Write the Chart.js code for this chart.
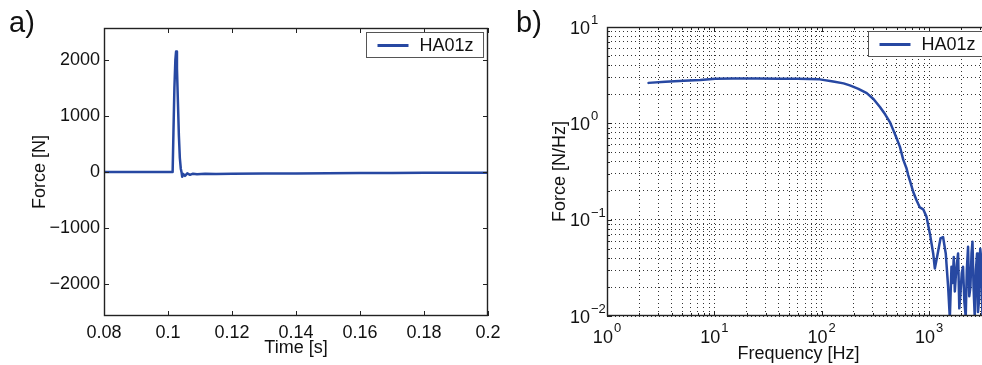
<!DOCTYPE html>
<html>
<head>
<meta charset="utf-8">
<script src="https://cdn.jsdelivr.net/npm/chart.js@4.4.1/dist/chart.umd.min.js"></script>
<style>
  html, body { margin: 0; padding: 0; overflow: hidden; background: #fff; width: 982px; height: 365px; }
  canvas { position: absolute; top: 0; }
  #chartA { left: 0; }
  #chartB { left: 500px; }
  .tag { position: absolute; top: 8px; font: 29px "Liberation Sans", Arial, sans-serif; line-height: 29px; color: #111; }
</style>
</head>
<body>
<canvas id="chartA" width="520" height="365"></canvas>
<canvas id="chartB" width="510" height="365"></canvas>
<div class="tag" style="left:9px">a)</div>
<div class="tag" style="left:516px">b)</div>
<script>
// a) time signal
const timeS  = [0.08, 0.09, 0.1, 0.10145, 0.1017, 0.1020, 0.1023, 0.10252, 0.1028, 0.1031, 0.1034, 0.1037, 0.1040, 0.10425, 0.10444, 0.10478, 0.10531, 0.10603, 0.10688, 0.10781, 0.10906, 0.1116, 0.115, 0.12, 0.13, 0.14, 0.15, 0.16, 0.17, 0.18, 0.19, 0.2];
const forceN = [0, 0, 0, 0, 700, 1500, 2000, 2150, 1850, 1250, 650, 250, 60, -10, -84, -36, -70, -25, -50, -30, -42, -30, -35, -30, -28, -25, -22, -20, -18, -15, -13, -12];
const xTicksA  = [0.08, 0.1, 0.12, 0.14, 0.16, 0.18, 0.2];
const xLabelsA = ['0.08', '0.1', '0.12', '0.14', '0.16', '0.18', '0.2'];
const yTicksA  = [-2000, -1000, 0, 1000, 2000];
const yLabelsA = ['\u22122000', '\u22121000', '0', '1000', '2000'];

// b) spectrum
const freqHz = [2.44, 3.5, 5.2, 7.4, 10.2, 15, 25, 40, 60, 96, 128, 160, 183, 220, 263, 305, 349, 390, 432, 465, 499, 536, 575, 618, 640, 675, 712, 765, 822, 883, 948, 1018, 1094, 1133, 1190, 1279, 1352, 1432, 1507, 1563, 1619, 1660, 1701, 1740, 1775, 1820, 1866, 1915, 1963, 2020, 2075, 2135, 2198, 2250, 2311, 2370, 2432, 2490, 2541, 2600, 2667, 2735, 2803, 2860, 2924, 3000, 3075, 3150, 3230, 3330, 3430, 3560, 3700];
const spectrum = [2.63, 2.70, 2.76, 2.82, 2.90, 2.92, 2.92, 2.91, 2.90, 2.86, 2.72, 2.60, 2.48, 2.28, 2.06, 1.78, 1.48, 1.24, 1.03, 0.85, 0.70, 0.57, 0.42, 0.34, 0.29, 0.24, 0.195, 0.159, 0.134, 0.128, 0.107, 0.072, 0.0446, 0.0312, 0.0411, 0.0638, 0.066, 0.0446, 0.0201, 0.0095, 0.0324, 0.022, 0.041, 0.018, 0.0255, 0.035, 0.0446, 0.012, 0.0171, 0.028, 0.0324, 0.014, 0.0098, 0.03, 0.0523, 0.016, 0.0201, 0.045, 0.0589, 0.02, 0.0098, 0.03, 0.0446, 0.011, 0.0146, 0.05, 0.038, 0.009, 0.012, 0.04, 0.035, 0.011, 0.02];
const xDecadesB = [1, 10, 100, 1000];
const yDecadesB = [0.01, 0.1, 1, 10];

const seriesName = 'HA01z';
const lineBlue = '#2748a2';
const FONT = '"Liberation Sans", Arial, sans-serif';

Chart.defaults.font.family = FONT;
Chart.defaults.font.size = 18;
Chart.defaults.color = '#111';

function isDecade(v) {
  const e = Math.log10(v);
  return Math.abs(e - Math.round(e)) < 1e-6;
}
function expText(v) {
  return String(Math.round(Math.log10(v))).replace('-', '\u2212');
}
// gridline values 1..9 per decade
function logTicks(decades, max) {
  const out = [];
  decades.forEach(d => {
    for (let m = 1; m <= 9; m++) {
      const v = +(m * d).toPrecision(6);
      if (v <= max) out.push({ value: v });
    }
  });
  return out;
}

// box, inward ticks and legend, matlab style
const frame = {
  id: 'frame',
  afterDatasetsDraw(chart) {
    const { ctx, chartArea: a, scales } = chart;
    ctx.save();
    ctx.strokeStyle = '#222';
    ctx.lineWidth = 1;
    ctx.beginPath();
    scales.x.ticks.forEach(t => {
      const len = isDecade(t.value) || scales.x.type === 'linear' ? 5 : 3;
      const px = Math.round(scales.x.getPixelForValue(t.value)) + 0.5;
      ctx.moveTo(px, a.bottom); ctx.lineTo(px, a.bottom - len);
      ctx.moveTo(px, a.top); ctx.lineTo(px, a.top + len);
    });
    scales.y.ticks.forEach(t => {
      const len = isDecade(t.value) || scales.y.type === 'linear' ? 5 : 3;
      const py = Math.round(scales.y.getPixelForValue(t.value)) + 0.5;
      ctx.moveTo(a.left, py); ctx.lineTo(a.left + len, py);
      ctx.moveTo(a.right, py); ctx.lineTo(a.right - len, py);
    });
    ctx.stroke();
    ctx.lineWidth = 1.4;
    ctx.strokeRect(Math.round(a.left) + 0.5, Math.round(a.top) + 0.5, Math.round(a.width) - 1, Math.round(a.height) - 1);

    // legend
    const ds = chart.data.datasets[0];
    ctx.font = '18px ' + FONT;
    const tw = ctx.measureText(ds.label).width;
    const w = 53 + tw + 10, h = 25;
    const x0 = Math.round(a.right - 5 - w) + 0.5, y0 = Math.round(a.top + 4) + 0.5;
    ctx.fillStyle = '#fff';
    ctx.fillRect(x0, y0, w, h);
    ctx.strokeStyle = '#555';
    ctx.lineWidth = 1;
    ctx.strokeRect(x0, y0, w, h);
    ctx.strokeStyle = ds.borderColor;
    ctx.lineWidth = 3;
    ctx.beginPath();
    ctx.moveTo(x0 + 11, y0 + 13); ctx.lineTo(x0 + 42, y0 + 13);
    ctx.stroke();
    ctx.fillStyle = '#111';
    ctx.textBaseline = 'middle';
    ctx.fillText(ds.label, x0 + 53, y0 + 13.5);
    ctx.restore();
  }
};

// 10^n labels with a raised exponent on the log axes
const powerLabels = {
  id: 'powerLabels',
  afterDraw(chart) {
    const { ctx, chartArea: a, scales } = chart;
    ctx.save();
    ctx.fillStyle = '#111';
    ctx.textBaseline = 'alphabetic';
    scales.x.ticks.filter(t => isDecade(t.value)).forEach(t => {
      const px = scales.x.getPixelForValue(t.value);
      const e = expText(t.value);
      ctx.font = '18px ' + FONT;
      const wb = ctx.measureText('10').width;
      ctx.font = '13px ' + FONT;
      const we = ctx.measureText(e).width;
      const x = px - (wb + 1 + we) / 2;
      ctx.textAlign = 'left';
      ctx.font = '18px ' + FONT;
      ctx.fillText('10', x, a.bottom + 27);
      ctx.font = '13px ' + FONT;
      ctx.fillText(e, x + wb + 1, a.bottom + 16);
    });
    scales.y.ticks.filter(t => isDecade(t.value)).forEach(t => {
      const py = scales.y.getPixelForValue(t.value);
      const e = expText(t.value);
      ctx.textAlign = 'right';
      ctx.font = '18px ' + FONT;
      ctx.fillText('10', a.left - 17, py + 6.5);
      ctx.textAlign = 'left';
      ctx.font = '13px ' + FONT;
      ctx.fillText(e, a.left - 16, py - 3);
    });
    ctx.restore();
  }
};

const lineDataset = (xs, ys) => ({
  label: seriesName,
  data: xs.map((x, i) => ({ x: x, y: ys[i] })),
  borderColor: lineBlue,
  backgroundColor: lineBlue,
  borderWidth: 2.5,
  borderJoinStyle: 'round',
  borderCapStyle: 'round',
  pointRadius: 0,
  tension: 0,
  fill: false
});

new Chart(document.getElementById('chartA'), {
  type: 'line',
  data: { datasets: [lineDataset(timeS, forceN)] },
  plugins: [frame],
  options: {
    responsive: false,
    animation: false,
    layout: { padding: { left: 0, top: 28, right: 32, bottom: 0 } },
    plugins: { legend: { display: false }, tooltip: { enabled: false } },
    scales: {
      x: {
        type: 'linear', min: 0.08, max: 0.2,
        afterBuildTicks: s => { s.ticks = xTicksA.map(v => ({ value: v })); },
        afterFit: s => { s.height = 49; },
        grid: { display: false, drawTicks: false },
        border: { display: false },
        ticks: { autoSkip: false, maxRotation: 0, padding: 6, callback: (v, i) => xLabelsA[i] },
        title: { display: true, text: 'Time [s]', padding: { top: 0, bottom: 6 } }
      },
      y: {
        type: 'linear', min: -2570, max: 2570,
        afterBuildTicks: s => { s.ticks = yTicksA.map(v => ({ value: v })); },
        afterFit: s => { s.width = 104; },
        grid: { display: false, drawTicks: false },
        border: { display: false },
        ticks: { autoSkip: false, padding: 4, callback: (v, i) => yLabelsA[i] },
        title: { display: true, text: 'Force [N]', padding: { top: 29, bottom: 0 } }
      }
    }
  }
});

new Chart(document.getElementById('chartB'), {
  type: 'line',
  data: { datasets: [lineDataset(freqHz, spectrum)] },
  plugins: [frame, powerLabels],
  options: {
    responsive: false,
    animation: false,
    layout: { padding: { left: 0, top: 27, right: 20, bottom: 0 } },
    plugins: { legend: { display: false }, tooltip: { enabled: false } },
    scales: {
      x: {
        type: 'logarithmic', min: 1, max: 3700,
        afterBuildTicks: s => { s.ticks = logTicks(xDecadesB, 3700); },
        afterFit: s => { s.height = 49; },
        grid: { color: 'rgba(0,0,0,0.8)', lineWidth: 1, drawTicks: false },
        border: { display: false, dash: [1, 3] },
        ticks: { autoSkip: false, maxRotation: 0, callback: () => '' },
        title: { display: true, text: 'Frequency [Hz]', padding: { top: 0, bottom: 0 } }
      },
      y: {
        type: 'logarithmic', min: 0.01, max: 10,
        afterBuildTicks: s => { s.ticks = logTicks(yDecadesB, 10); },
        afterFit: s => { s.width = 107; },
        grid: { color: 'rgba(0,0,0,0.8)', lineWidth: 1, drawTicks: false },
        border: { display: false, dash: [1, 3] },
        ticks: { autoSkip: false, callback: () => '' },
        title: { display: true, text: 'Force [N/Hz]', padding: { top: 49, bottom: 0 } }
      }
    }
  }
});
</script>
</body>
</html>
